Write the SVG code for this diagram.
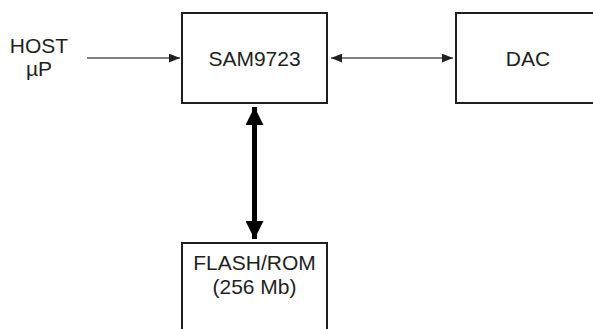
<svg xmlns="http://www.w3.org/2000/svg" width="593" height="329" viewBox="0 0 593 329">
<defs>
<style>
.box{fill:#fff;stroke:#231f20;stroke-width:2}
.lbl{font-family:"Liberation Sans",Arial,sans-serif;font-size:21px;fill:#231f20;text-anchor:middle}
.thin{stroke:#555;stroke-width:1.4;fill:none}
.thick{stroke:#000;stroke-width:5;fill:none}
</style>
<marker id="ah" viewBox="0 0 10 8" refX="10" refY="4" markerUnits="userSpaceOnUse" markerWidth="11" markerHeight="9" orient="auto-start-reverse">
<path d="M0,0 L10,4 L0,8 Z" fill="#231f20"/>
</marker>
<marker id="big" viewBox="0 0 18 18" refX="18" refY="9" markerUnits="userSpaceOnUse" markerWidth="18" markerHeight="18" orient="auto-start-reverse">
<path d="M0,0 L18,9 L0,18 Z" fill="#000"/>
</marker>
</defs>
<g id="connectors">
<line class="thin" x1="87" y1="58" x2="180" y2="58" marker-end="url(#ah)"/>
<line class="thin" x1="331" y1="58" x2="453" y2="58" marker-start="url(#ah)" marker-end="url(#ah)"/>
<line class="thick" x1="254.5" y1="107" x2="254.5" y2="239" marker-start="url(#big)" marker-end="url(#big)"/>
</g>
<g id="host">
<text class="lbl" x="39" y="53">HOST</text>
<text class="lbl" x="39" y="76">µP</text>
</g>
<g id="sam9723">
<rect class="box" x="182" y="13" width="145" height="90"/>
<text class="lbl" x="254.5" y="66">SAM9723</text>
</g>
<g id="dac">
<rect class="box" x="456" y="13" width="160" height="90"/>
<text class="lbl" x="528" y="66">DAC</text>
</g>
<g id="flash">
<rect class="box" x="182" y="243" width="145" height="110"/>
<text class="lbl" x="254.5" y="270">FLASH/ROM</text>
<text class="lbl" x="254.5" y="294">(256 Mb)</text>
</g>
</svg>
